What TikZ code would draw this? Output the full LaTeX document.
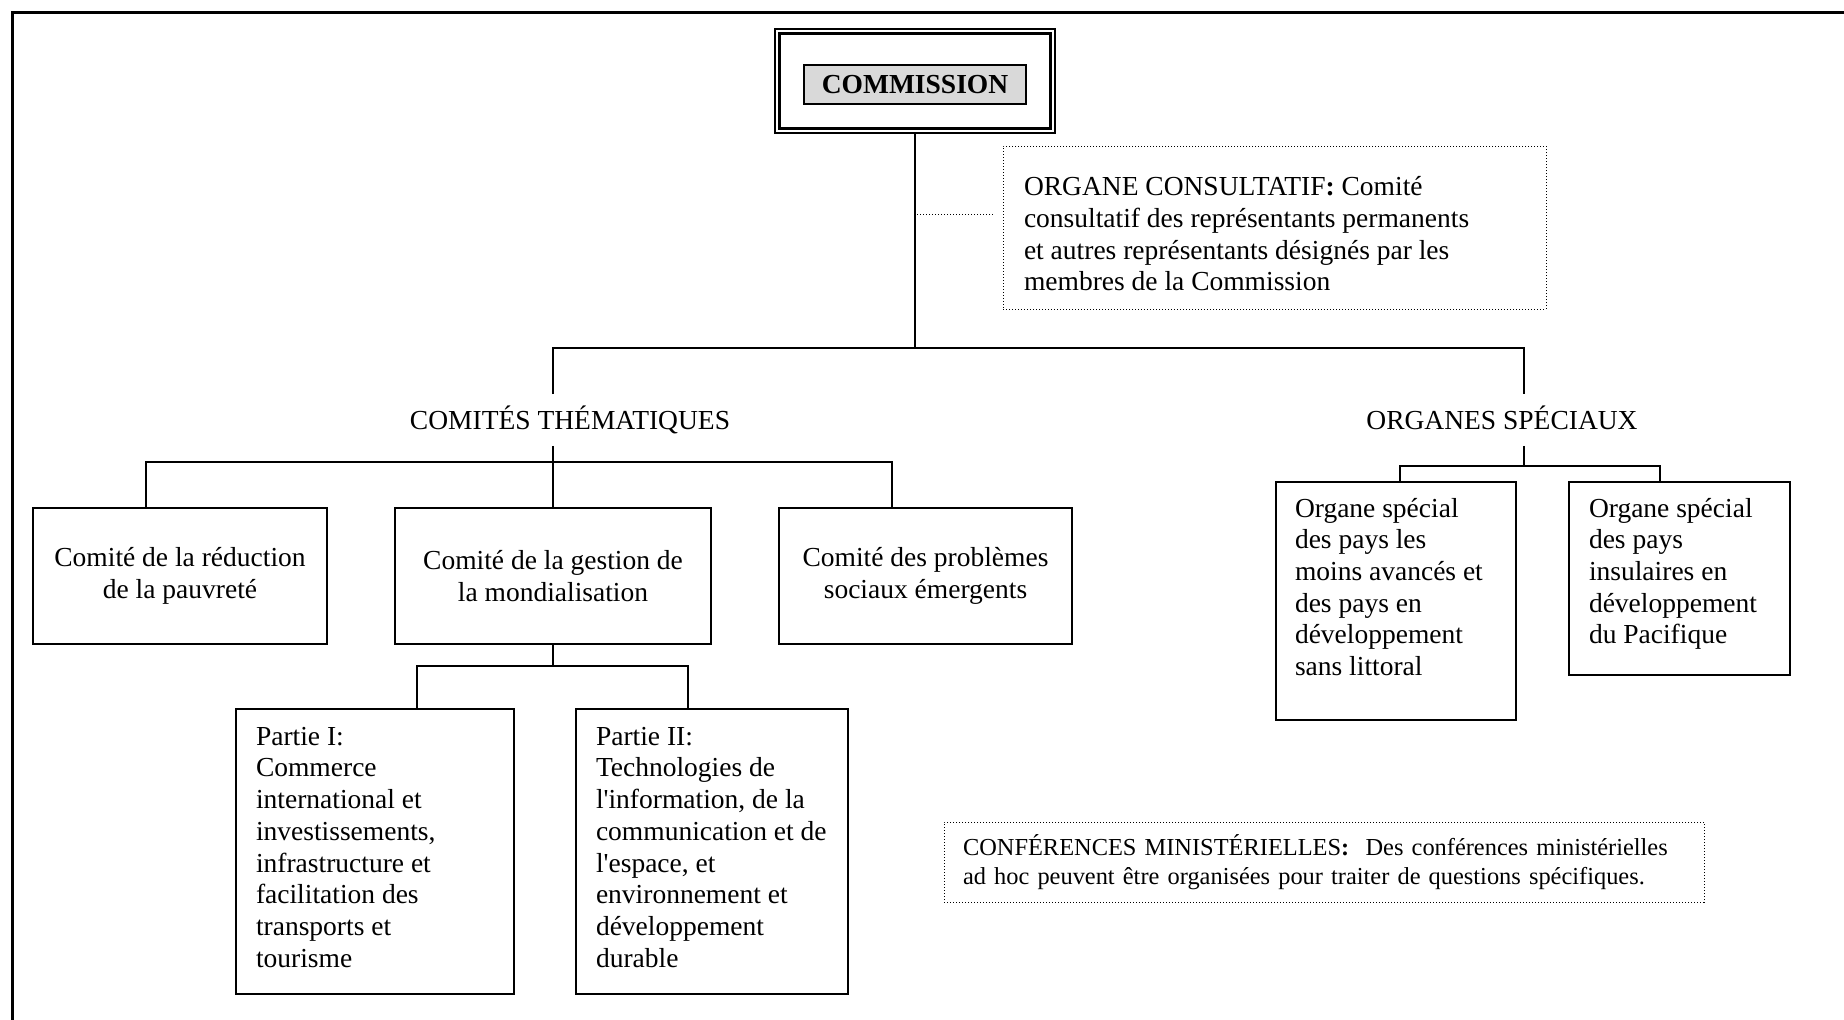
\documentclass[tikz,border=0pt]{standalone}
\usepackage{fontspec}
\setmainfont{Liberation Serif}
\usepackage{tikz}
\usetikzlibrary{positioning}
\newcommand{\orgfont}{\fontsize{13.75}{15.85}\selectfont}
\newcommand{\smallorgfont}{\fontsize{12.2}{14.7}\selectfont}
\newcommand{\topparbox}[3]{\parbox[c][#1][t]{#2}{\raggedright #3}}

\begin{document}
\begin{tikzpicture}[x=1pt,y=-1pt,every node/.style={font=\orgfont},
  box/.style={draw,line width=1pt,align=center,inner sep=0pt},
  topbox/.style={draw,line width=1pt,inner ysep=8pt},
  dotbox/.style={draw,line width=0.5pt,dash pattern=on 0.5pt off 1pt,align=left},
  heading/.style={text height=9.1pt,text depth=0pt,inner xsep=0pt,inner ysep=8.2pt},
  conn/.style={line width=1pt}]
  \useasboundingbox (0,0) rectangle (922,509.5);
  \draw[line width=1.5pt] (6,515) -- (6,6) -- (930,6);
  \node[draw,line width=0.75pt,minimum width=140pt,minimum height=52pt] (comm) at (457.5,40.5) {};
  \draw[line width=1.5pt] ([shift={(2.75,2.75)}]comm.north west) rectangle ([shift={(-2.75,-2.75)}]comm.south east);
  \node[draw,line width=1pt,fill=black!15,minimum width=111pt,minimum height=19.5pt,inner sep=0pt,font=\orgfont\bfseries] (title) at (457.5,42.25) {COMMISSION};
  \node[dotbox,inner xsep=10.5pt,inner ysep=15.3pt] (consult) at (637.25,113.75) {\topparbox{50.9pt}{250.5pt}{ORGANE CONSULTATIF\textbf{:} Comité\\consultatif des représentants permanents\\et autres représentants désignés par les\\membres de la Commission}};
  \node[heading] (them) at (285,210) {COMITÉS THÉMATIQUES};
  \node[heading] (spec) at (751,210) {ORGANES SPÉCIAUX};
  \node[box,minimum width=147pt,minimum height=68pt] (pauv) at (90,288) {Comité de la réduction\\de la pauvreté};
  \node[box,minimum width=158pt,minimum height=68pt] (mond) at (276.5,288) {Comité de la gestion de\\la mondialisation};
  \node[box,minimum width=146.5pt,minimum height=68pt] (soc) at (462.75,288) {Comité des problèmes\\sociaux émergents};
  \node[topbox,inner xsep=10pt,inner ysep=9pt] (p1) at (187.5,425.75) {\topparbox{124.5pt}{119pt}{Partie I:\\Commerce\\international et\\investissements,\\infrastructure et\\facilitation des\\transports et\\tourisme}};
  \node[topbox,inner xsep=10pt,inner ysep=9pt] (p2) at (356,425.75) {\topparbox{124.5pt}{116pt}{Partie II:\\Technologies de\\\mbox{l\textquotesingle information, de la}\\\mbox{communication et de}\\l\textquotesingle espace, et\\environnement et\\développement\\durable}};
  \node[topbox,inner xsep=9.5pt] (pma) at (698,300.5) {\topparbox{103pt}{101pt}{Organe spécial\\des pays les\\moins avancés et\\des pays en\\développement\\sans littoral}};
  \node[topbox,inner xsep=10pt] (pac) at (839.75,289.25) {\topparbox{80.5pt}{90.5pt}{Organe spécial\\des pays\\insulaires en\\développement\\du Pacifique}};
  \node[dotbox,font=\smallorgfont,text width=361pt,inner xsep=9.5pt,minimum height=40pt] (conf) at (662,431) {\mbox{CONFÉRENCES MINISTÉRIELLES\textbf{:}\ \ Des conférences ministérielles}\\\mbox{ad hoc peuvent être organisées pour traiter de questions spécifiques.}};
  % junctions
  \coordinate (hub) at (457.5,174);
  \coordinate (cj) at (458.5,107);
  \coordinate (tj) at (276.5,231);
  \coordinate (mj) at (276.5,333);
  \coordinate (sj) at (762,233);
  \draw[conn] (comm.south) -- (hub);
  \draw[conn] (them.north -| mond.north) |- (hub) -| ([xshift=11pt]spec.north);
  \draw[line width=0.5pt,dash pattern=on 0.5pt off 1pt,shorten >=4pt] (cj) -- (consult.west |- cj);
  \draw[conn] (them.south -| mond.north) -- (mond.north);
  \draw[conn] ([xshift=-17pt]pauv.north) |- (tj) -| ([xshift=-17pt]soc.north);
  \draw[conn] (mond.south) -- (mj);
  \draw[conn] ([xshift=21pt]p1.north) |- (mj) -| ([xshift=-12pt]p2.north);
  \draw[conn] (spec.south -| sj) -- (sj);
  \draw[conn] ([xshift=2pt]pma.north) |- (sj) -| ([xshift=-10pt]pac.north);
\end{tikzpicture}
\end{document}
